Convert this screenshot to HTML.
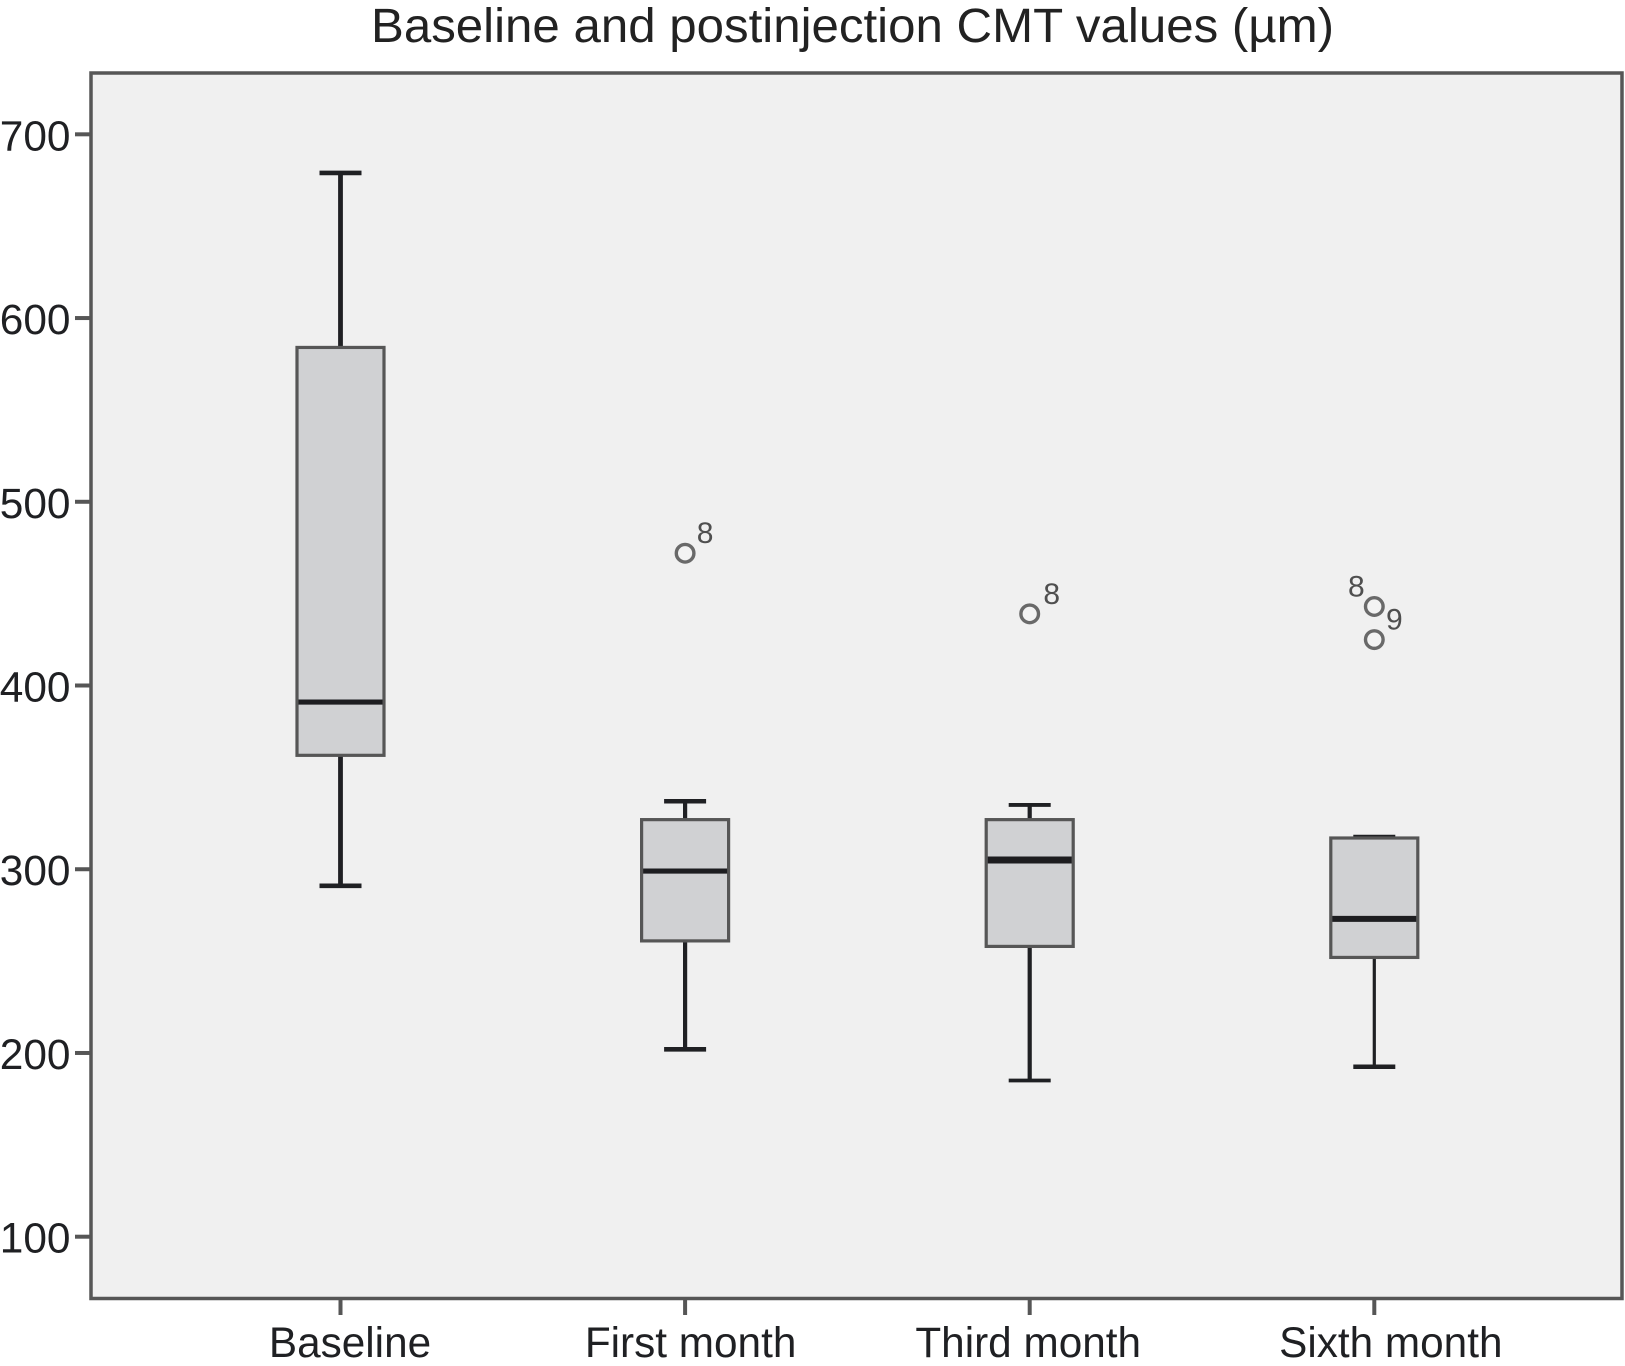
<!DOCTYPE html>
<html>
<head>
<meta charset="utf-8">
<title>Baseline and postinjection CMT values</title>
<style>
html,body{margin:0;padding:0;background:#fff;}
svg{display:block;font-family:"Liberation Sans",sans-serif;}
</style>
</head>
<body>
<svg id="chart" xmlns="http://www.w3.org/2000/svg" width="1625" height="1366" viewBox="0 0 1625 1366">
  <text x="852.5" y="42" font-size="48" fill="#222" text-anchor="middle" textLength="963" lengthAdjust="spacingAndGlyphs">Baseline and postinjection CMT values (µm)</text>
  <rect x="91" y="73" width="1531" height="1225.5" fill="#f0f0f0" stroke="#565656" stroke-width="3.5"/>
</svg>
<script>
const categories = ['Baseline', 'First month', 'Third month', 'Sixth month'];
const yTicks = [100, 200, 300, 400, 500, 600, 700];
const whiskerHigh = [679, 337, 335, 317.5];
const q3Values = [584, 327, 327, 317];
const medians = [391, 299, 305, 273];
const q1Values = [362, 261, 258, 252];
const whiskerLow = [291, 202, 185, 192.5];
const outlierCategory = [1, 2, 3, 3];
const outlierValues = [472, 439, 443, 425];
const outlierLabels = ['8', '8', '8', '9'];

const svg = document.getElementById('chart');
const NS = 'http://www.w3.org/2000/svg';
function yScale(v) { return 1236.7 - (v - 100) * 1.8373; }
function xScale(i) { return 340.5 + i * 344.6; }
function make(tag, attrs) {
  const el = document.createElementNS(NS, tag);
  for (const k in attrs) el.setAttribute(k, attrs[k]);
  svg.appendChild(el);
  return el;
}
function whiskerWidth(i) { return i === 3 ? 3.2 : (i === 0 ? 4.8 : 4.2); }
function capWidth(i) { return i === 2 ? 3.8 : 4.6; }
function medianWidth(i) { return i === 2 ? 7 : (i === 3 ? 6 : 5.2); }
const INK = '#1f2023';
const AXIS = '#565656';

yTicks.forEach(function (t) {
  const y = yScale(t);
  const tick = make('line', { x1: 75, x2: 91, y1: y, y2: y, stroke: AXIS, 'stroke-width': 4 });
  
  
  const label = make('text', { x: 70.5, y: y + 16, 'font-size': 42.4, fill: INK, 'text-anchor': 'end' });
  label.textContent = t;
  
  
});

categories.forEach(function (name, i) {
  const x = xScale(i);
  const tick = make('line', { x1: x, x2: x, y1: 1298, y2: 1315, stroke: AXIS, 'stroke-width': 4 });
  
  
  const label = make('text', { x: x + 9.5 - (i === 2 ? 11 : 0) + (i === 1 ? -4 : 0) + (i === 3 ? 7 : 0), y: 1357, 'font-size': 42.3, fill: INK, 'text-anchor': 'middle' });
  label.textContent = name;
  
  

  const upper = make('line', { x1: x, x2: x, y1: yScale(whiskerHigh[i]), y2: yScale(q3Values[i]), stroke: INK, 'stroke-width': whiskerWidth(i) });
  
  
  const upperCap = make('line', { x1: x - 21, x2: x + 21, y1: yScale(whiskerHigh[i]), y2: yScale(whiskerHigh[i]), stroke: INK, 'stroke-width': capWidth(i) });
  
  
  const lower = make('line', { x1: x, x2: x, y1: yScale(q1Values[i]), y2: yScale(whiskerLow[i]), stroke: INK, 'stroke-width': whiskerWidth(i) });
  
  
  const lowerCap = make('line', { x1: x - 21, x2: x + 21, y1: yScale(whiskerLow[i]), y2: yScale(whiskerLow[i]), stroke: INK, 'stroke-width': capWidth(i) });
  
  

  const box = make('rect', { x: x - 43.5, width: 87, y: yScale(q3Values[i]), height: yScale(q1Values[i]) - yScale(q3Values[i]), fill: '#d0d1d3', stroke: AXIS, 'stroke-width': 3.2 });
  
  
  const med = make('line', { x1: x - 42, x2: x + 42, y1: yScale(medians[i]), y2: yScale(medians[i]), stroke: '#1d1d20', 'stroke-width': medianWidth(i) });
  
  
});

outlierValues.forEach(function (v, j) {
  const x = xScale(outlierCategory[j]);
  const y = yScale(v);
  const dot = make('circle', { cx: x, cy: y, r: 8.8, fill: '#f3f3f3', stroke: '#696969', 'stroke-width': 3.4 });
  
  
  const side = j === 2 ? -18 : (j === 1 ? 22 : 20);
  const label = make('text', { x: x + side, y: y - 10, 'font-size': 30, fill: '#4f4f4f', 'text-anchor': 'middle' });
  label.textContent = outlierLabels[j];
  
  
});
</script>
</body>
</html>
